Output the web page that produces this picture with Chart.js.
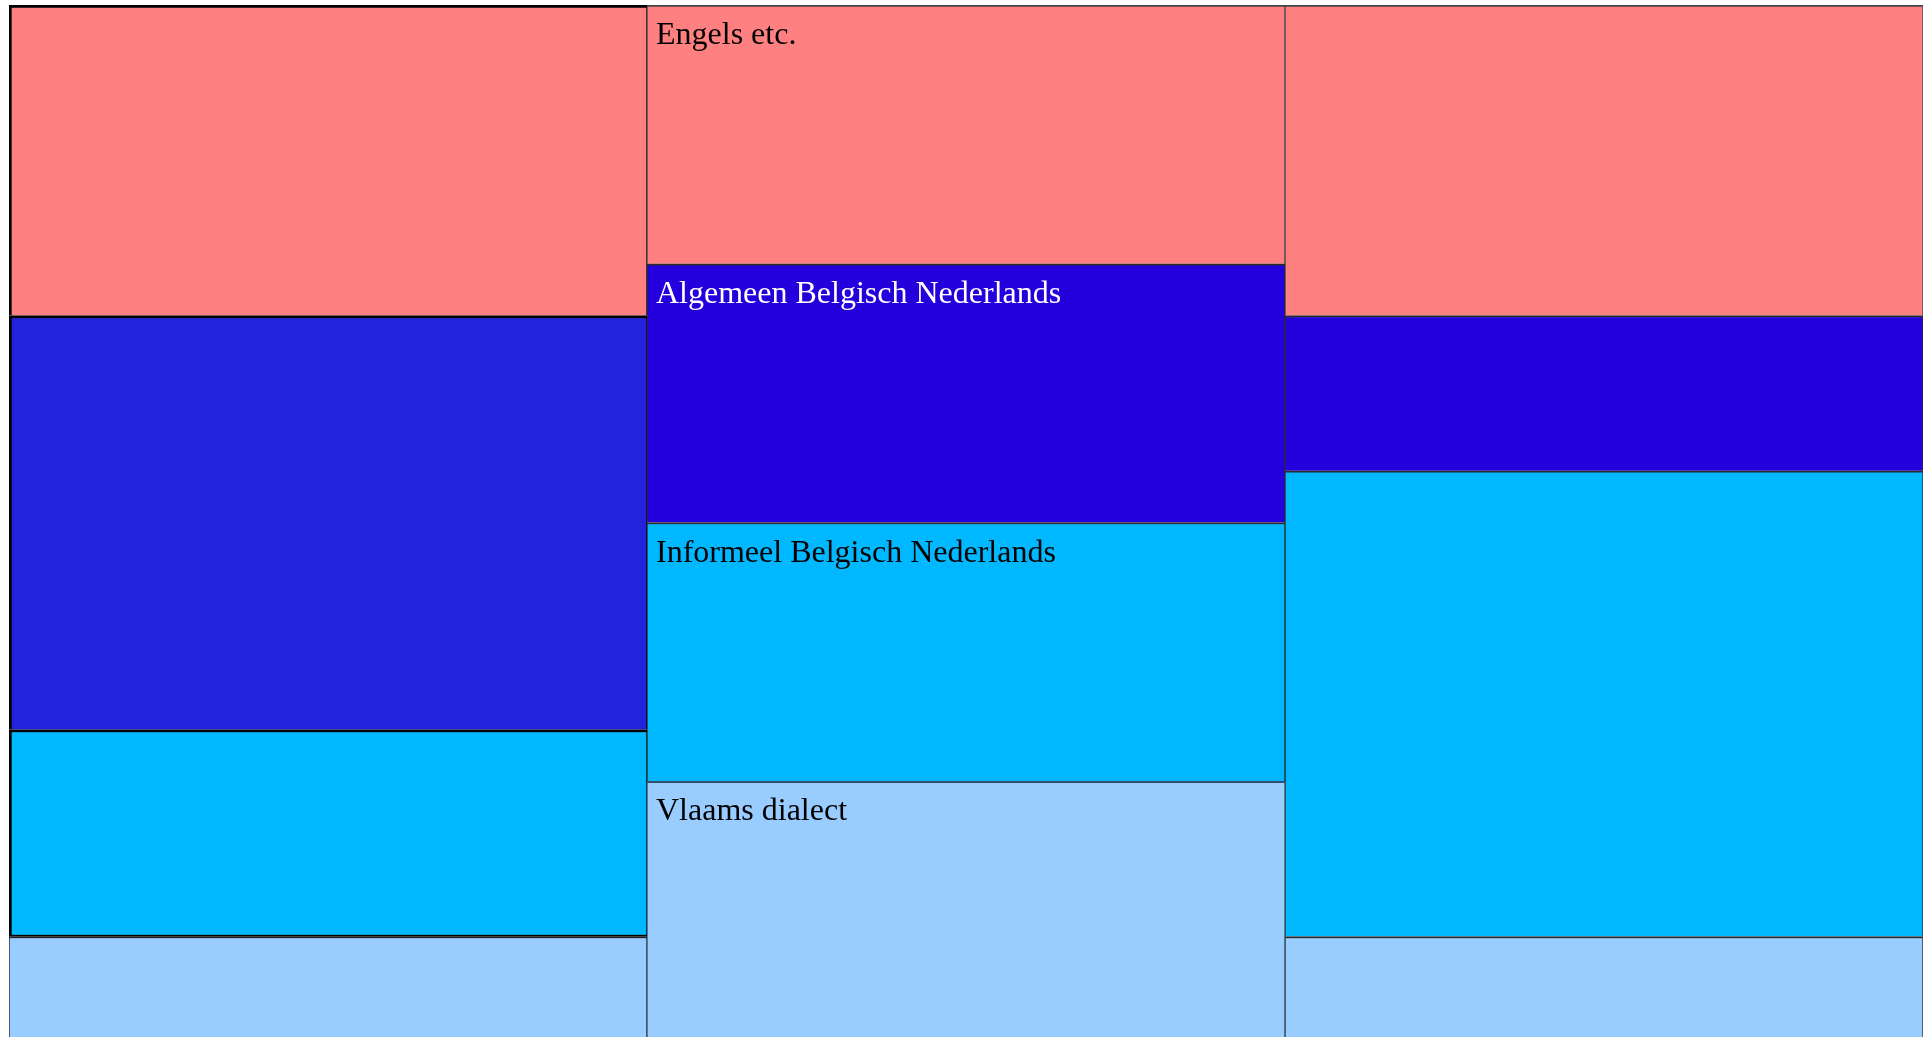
<!DOCTYPE html>
<html>
<head>
<meta charset="utf-8">
<title>Taalgebruik</title>
<script src="https://cdn.jsdelivr.net/npm/chart.js@4/dist/chart.umd.min.js"></script>
<style>
  html, body { margin: 0; padding: 0; background: #fff; overflow: hidden; }
  #mosaic { display: block; }
</style>
</head>
<body>
<canvas id="mosaic" width="1930" height="1042"></canvas>
<script>
// Stacked 100% bars, one column per group
const categories = ["Groep 1", "Groep 2", "Groep 3"];
const vlaamsDialect = [10, 25, 10];
const informeelBN = [20, 25, 45];
const algemeenBN = [40, 25, 15];
const engelsEtc = [30, 25, 30];

const seriesNames = [
  "Vlaams dialect",
  "Informeel Belgisch Nederlands",
  "Algemeen Belgisch Nederlands",
  "Engels etc.",
];

// first column gets a heavy outline, the others a thin one
const heavy = { top: 3, left: 3, right: 1, bottom: 0 };
const thin = { top: 2, left: 1, right: 1, bottom: 0 };
const edge = ["#000", "#2a2a2a", "#2a2a2a"];

// write the series names into the middle column
const segmentLabels = {
  id: "segmentLabels",
  afterDatasetsDraw(chart) {
    const ctx = chart.ctx;
    ctx.save();
    ctx.font = '32px "Liberation Serif", "Times New Roman", serif';
    ctx.textBaseline = "alphabetic";
    ctx.textAlign = "left";
    chart.data.datasets.forEach((ds, i) => {
      const bar = chart.getDatasetMeta(i).data[1];
      const left = bar.x - bar.width / 2;
      const top = Math.min(bar.y, bar.base);
      ctx.fillStyle = ds.labelColor;
      ctx.fillText(ds.label, left + 9, top + 39);
    });
    ctx.restore();
  },
};

var mosaicCtx = document.getElementById("mosaic").getContext("2d");

var mosaicChart = new Chart(mosaicCtx, {
  type: "bar",
  data: {
    labels: categories,
    datasets: [
      {
        label: seriesNames[0],
        data: vlaamsDialect,
        backgroundColor: "#99CCFF",
        borderColor: ["#222", "#34506c", "#2a2a2a"],
        borderWidth: [thin, thin, thin],
        labelColor: "#000",
      },
      {
        label: seriesNames[1],
        data: informeelBN,
        backgroundColor: "#00B8FF",
        borderColor: edge,
        borderWidth: [{ top: 3, left: 3, right: 1, bottom: 2 }, thin, thin],
        labelColor: "#000",
      },
      {
        label: seriesNames[2],
        data: algemeenBN,
        backgroundColor: ["#2323DC", "#2300DC", "#2300DC"],
        borderColor: edge,
        borderWidth: [heavy, thin, thin],
        labelColor: "#fff",
      },
      {
        label: seriesNames[3],
        data: engelsEtc,
        backgroundColor: "#FF8080",
        borderColor: ["#000", "#444", "#444"],
        borderWidth: [heavy, thin, thin],
        labelColor: "#000",
      },
    ],
  },
  options: {
    responsive: false,
    animation: false,
    layout: { padding: { left: 9, right: 7, top: 5, bottom: 2 } },
    datasets: {
      bar: {
        barPercentage: 1,
        categoryPercentage: 1,
        borderSkipped: false,
      },
    },
    scales: {
      x: { display: false, stacked: true },
      y: { display: false, stacked: true, min: 0, max: 100 },
    },
    plugins: {
      legend: { display: false },
      tooltip: { enabled: false },
    },
  },
  plugins: [segmentLabels],
});
</script>
</body>
</html>
